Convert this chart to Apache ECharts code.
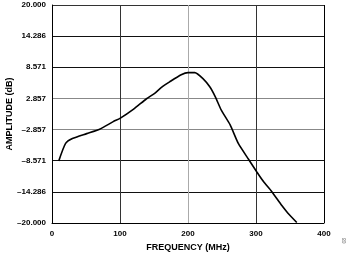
<!DOCTYPE html>
<html>
<head>
<meta charset="utf-8">
<script src="https://cdn.jsdelivr.net/npm/echarts@6/dist/echarts.min.js"></script>
<style>html,body{margin:0;padding:0;background:#fff;}#c{width:350px;height:254px;}</style>
</head>
<body>
<div id="c"></div>
<script>
const frequencyMHz = [10, 20, 30, 51, 70, 90, 100, 120, 139, 151, 161, 173, 190, 200, 210, 222, 232, 240, 249, 262, 274, 289, 301, 311, 323, 338, 347, 360];
const amplitudeDb = [-8.6, -5.4, -4.5, -3.6, -2.8, -1.4, -0.8, 0.9, 2.8, 3.8, 4.9, 5.9, 7.2, 7.6, 7.6, 6.5, 5.0, 3.2, 0.7, -2.0, -5.4, -8.3, -10.6, -12.4, -14.2, -16.8, -18.2, -19.9];
const yTickLabels = ['\u201320.000', '\u201314.286', '\u20138.571', '\u20132.857', '2.857', '8.571', '14.286', '20.000'];
const xTickLabels = ['0', '100', '200', '300', '400'];

const chart = echarts.init(document.getElementById('c'), null, {renderer: 'canvas'});
const fontFam = '"Liberation Sans", Arial, sans-serif';
chart.setOption({
  animation: false,
  backgroundColor: '#fff',
  grid: {left: 52, right: 26, top: 5, bottom: 31, containLabel: false, outerBoundsMode: 'none'},
  xAxis: {
    type: 'value', min: 0, max: 400, interval: 100,
    name: 'FREQUENCY (MHz)', nameLocation: 'middle', nameGap: 20, nameMoveOverlap: false,
    nameTextStyle: {fontFamily: fontFam, fontWeight: 'bold', fontSize: 9, color: '#000'},
    axisLine: {show: true, onZero: false, lineStyle: {color: '#000', width: 1}},
    axisTick: {show: false},
    axisLabel: {fontFamily: fontFam, fontWeight: 'bold', fontSize: 8, color: '#000', margin: 6.5,
      formatter: (v) => xTickLabels[Math.round(v / 100)]},
    splitLine: {show: true, lineStyle: {color: ['#000', '#333', '#aaa', '#333', '#000'], width: 1}}
  },
  yAxis: {
    type: 'value', min: -20, max: 20, interval: 40 / 7,
    name: 'AMPLITUDE (dB)', nameLocation: 'middle', nameGap: 38, nameMoveOverlap: false,
    nameTextStyle: {fontFamily: fontFam, fontWeight: 'bold', fontSize: 9, color: '#000'},
    axisLine: {show: true, onZero: false, lineStyle: {color: '#000', width: 1}},
    axisTick: {show: false},
    axisLabel: {fontFamily: fontFam, fontWeight: 'bold', fontSize: 8, color: '#000', margin: 6,
      formatter: (v) => yTickLabels[Math.round((v + 20) / (40 / 7))]},
    splitLine: {show: true, lineStyle: {color: ['#000', '#111', '#111', '#888', '#888', '#111', '#111', '#333'], width: 1}}
  },
  series: [{
    type: 'line',
    data: frequencyMHz.map((f, i) => [f, amplitudeDb[i]]),
    showSymbol: false, smooth: 0.2,
    lineStyle: {color: '#000', width: 1.6}
  }],
  graphic: [{
    type: 'text', left: 342, top: 238, rotation: Math.PI / 2,
    style: {text: '08', fontSize: 5, fill: '#666', fontFamily: fontFam}
  }]
});
</script>
</body>
</html>
